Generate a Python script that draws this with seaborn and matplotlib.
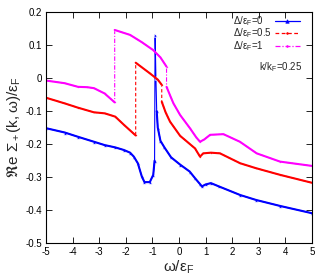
import numpy as np
import matplotlib
matplotlib.use("Agg")
import matplotlib.pyplot as plt
import seaborn as sns

# omega/eF and Re Sigma_+ / eF (repeated omega = jump)
w0 = [-5, -4.3, -3.8, -3.2, -2.8, -2.4, -2.07, -1.84, -1.7, -1.55, -1.4, -1.3, -1.1,
      -0.97, -0.92, -0.90, -0.87, -0.84, -0.80, -0.7, -0.55, -0.3, 0.04, 0.4, 0.6,
      0.8, 0.86, 1.0, 1.2, 1.5, 2.3, 2.9, 3.8, 5]
v0 = [-0.152, -0.165, -0.178, -0.193, -0.203, -0.210, -0.218, -0.226, -0.238, -0.258,
      -0.298, -0.315, -0.315, -0.293, -0.25, 0.130, 0.0, -0.10, -0.15, -0.19, -0.21,
      -0.24, -0.262, -0.283, -0.303, -0.322, -0.328, -0.322, -0.318, -0.328, -0.354,
      -0.369, -0.387, -0.409]

w05 = [-5, -4.3, -3.8, -3.2, -2.8, -2.4, -2.07, -1.85, -1.63, -1.63, -1.1, -0.8,
       -0.65, -0.65, -0.5, -0.34, 0.04, 0.6, 0.79, 0.91, 1.2, 1.54, 2.3, 2.9, 3.8, 5]
v05 = [-0.060, -0.077, -0.090, -0.104, -0.107, -0.117, -0.142, -0.158, -0.174, 0.046,
       0.014, -0.005, -0.021, -0.072, -0.105, -0.132, -0.175, -0.213, -0.238, -0.228,
       -0.226, -0.228, -0.258, -0.273, -0.293, -0.317]

w1 = [-5, -4.3, -3.8, -3.45, -3.2, -2.8, -2.42, -2.42, -1.84, -1.4, -0.97, -0.7,
      -0.47, -0.47, -0.3, -0.21, 0.04, 0.41, 0.65, 0.79, 0.95, 1.17, 1.67, 2.29,
      2.92, 3.8, 5]
v1 = [-0.008, -0.016, -0.027, -0.028, -0.031, -0.047, -0.074, 0.145, 0.130, 0.108,
      0.084, 0.062, 0.034, -0.027, -0.06, -0.077, -0.112, -0.152, -0.180, -0.193,
      -0.186, -0.172, -0.170, -0.193, -0.228, -0.253, -0.266]

labels = [r"$\Delta/\epsilon_F$=0", r"$\Delta/\epsilon_F$=0.5", r"$\Delta/\epsilon_F$=1"]
colors = ["#0000ff", "#ff0000", "#ff00ff"]
styles = ["-", (0, (3, 2)), (0, (4, 1.5, 1, 1.5))]
markers = ["^", ".", "."]

sns.set_style("ticks")
plt.rcParams["font.family"] = ["Liberation Sans", "DejaVu Sans"]
plt.rcParams["mathtext.fontset"] = "custom"
plt.rcParams["mathtext.rm"] = "Liberation Sans"
plt.rcParams["mathtext.it"] = "Liberation Sans"
plt.rcParams["mathtext.default"] = "regular"
plt.rcParams["axes.unicode_minus"] = False

fig = plt.figure(figsize=(3.27, 2.8), dpi=100)
ax = fig.add_axes([0.141, 0.131, 0.813, 0.827])

for w, v, c, ls, mk in zip([w0, w05, w1], [v0, v05, v1], colors, styles, markers):
    sns.lineplot(x=w, y=v, sort=False, estimator=None, color=c, lw=0.8,
                 linestyle=ls, marker=mk, markersize=2.5, markeredgewidth=0.5,
                 ax=ax, legend=False)
    # thicker smooth parts, jumps and the steep spike stay thin
    w = np.array(w, dtype=float)
    v = np.array(v, dtype=float)
    dw = np.diff(w)
    dv = np.abs(np.diff(v))
    ok = (dw > 0) & (dv <= 2 * np.where(dw > 0, dw, 1))
    i = 0
    while i < len(ok):
        if ok[i]:
            j = i
            while j < len(ok) and ok[j]:
                j += 1
            sns.lineplot(x=w[i:j + 1], y=v[i:j + 1], sort=False, estimator=None,
                         color=c, lw=1.5, ax=ax, legend=False)
            i = j
        else:
            i += 1

ax.set_xlim(-5, 5)
ax.set_ylim(-0.5, 0.2)
ax.set_xticks(np.arange(-5, 6, 1))
ax.set_yticks(np.arange(-0.5, 0.21, 0.1))
ax.set_xticklabels([f"{t:g}" for t in range(-5, 6)])
ax.set_yticklabels(["-0.5", "-0.4", "-0.3", "-0.2", "-0.1", "0", "0.1", "0.2"])
ax.tick_params(direction="in", length=4, width=0.6, labelsize=7, top=True, right=True,
               pad=3, colors="black")
for s in ax.spines.values():
    s.set_linewidth(0.8)
    s.set_color("black")

ax.set_xlabel(r"$\omega/\epsilon_F$", fontsize=11, labelpad=1)
ax.set_ylabel(r"$\Re$e $\Sigma_+(k,\omega)/\epsilon_F$", fontsize=11, labelpad=2)

# gnuplot style key: label on the left, sample on the right
key_y = [0.961, 0.907, 0.852]
for lab, c, ls, mk, ky in zip(labels, colors, styles, markers, key_y):
    ax.text(0.702, ky, lab, transform=ax.transAxes, fontsize=7, ha="left", va="center")
    ax.plot([0.861, 0.908, 0.955], [ky, ky, ky], transform=ax.transAxes, color=c,
            lw=0.9, linestyle=ls, marker=mk, markersize=2.5, markeredgewidth=0.5,
            markevery=[1])

ax.text(0.80, 0.76, r"k/k$_F$=0.25", transform=ax.transAxes, fontsize=7,
        ha="left", va="center")

fig.savefig("out.png", dpi=100)
